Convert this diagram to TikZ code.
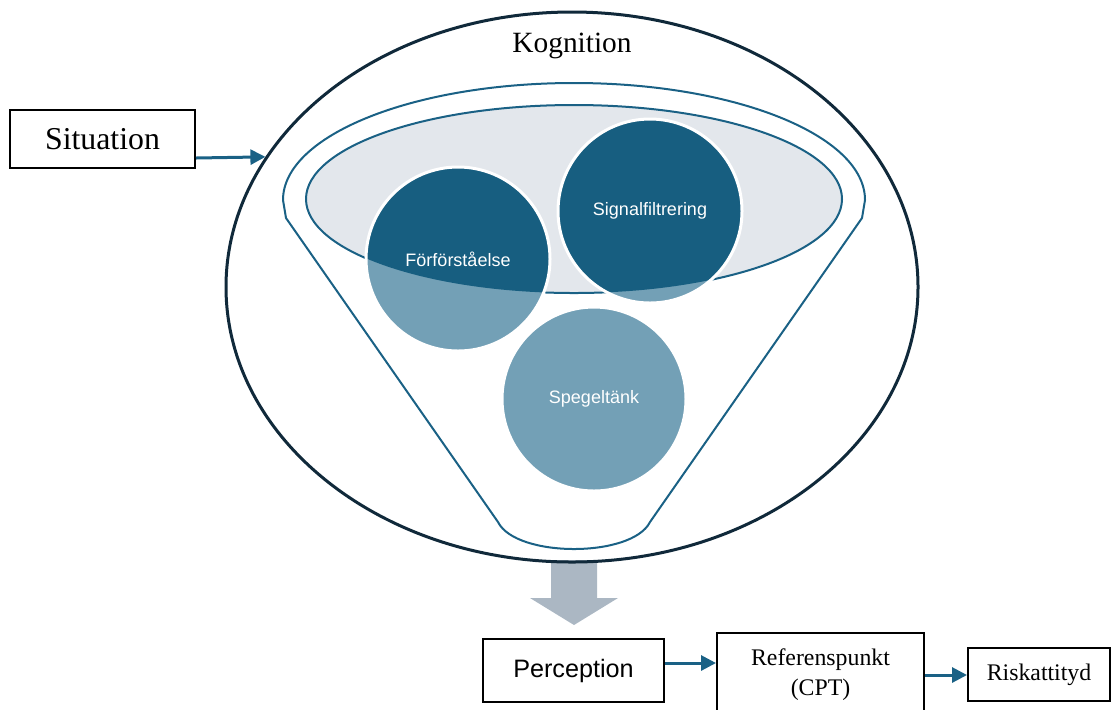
\documentclass[tikz,border=0pt]{standalone}
\usepackage{fontspec}
\setmainfont{Liberation Serif}
\newfontfamily\sansf{Liberation Sans}
\usepackage{tikz}
\usetikzlibrary{shapes.geometric}
\usetikzlibrary{arrows.meta}
\definecolor{navy}{HTML}{10293A}
\definecolor{tealc}{HTML}{1A6185}
\definecolor{darkc}{HTML}{175E80}
\definecolor{litec}{HTML}{73A0B6}
\definecolor{greyf}{HTML}{E3E7EC}
\definecolor{greya}{HTML}{ABB7C3}
\tikzstyle{bx}=[draw,rectangle,fill=white,line width=1pt,inner sep=0pt]
\tikzstyle{bub}=[draw=white,circle,line width=1.5pt,minimum size=92pt,inner sep=0pt,text=white,font=\sansf\fontsize{9}{11}\selectfont]
\tikzstyle{flow}=[draw=tealc,line width=1.5pt,-{Triangle[length=7.5pt,width=7.5pt]}]

\begin{document}
\begin{tikzpicture}[x=0.5pt,y=-0.5pt]
      \useasboundingbox (0,0) rectangle (1112,709);
      % grey block arrow below the big ellipse
      \fill [greya] (551,560) -- (597,560) -- (597,598) -- (618,598) -- (574,625) -- (530,598) -- (551,598) -- cycle;
      \node [draw=navy, ellipse, line width=1.5pt, minimum width=346pt, minimum height=275pt] (kog) at (572,287) {};
      \node [font=\fontsize{14.7}{17}\selectfont] (kogtxt) at (572,46) {Kognition};
      % funnel
      \draw [tealc, line width=1pt] (283,200) arc [start angle=180, end angle=360, x radius=291, y radius=117]
        -- (862,218) -- (650,522) .. controls (632,558) and (516,558) .. (498,522) -- (286,218) -- cycle;
      \coordinate (ic) at (574,199);
      \draw [tealc, fill=greyf, line width=1pt] (ic) ellipse [x radius=268, y radius=94];
      \coordinate (c1) at (458,259);
      \coordinate (c2) at (650,211);
      \coordinate (c3) at (594,399);
      \fill [litec] (c1) circle [radius=92] (c2) circle [radius=92] (c3) circle [radius=92];
      \begin{scope}
        \clip (ic) ellipse [x radius=268, y radius=94];
        \fill [darkc] (c1) circle [radius=92] (c2) circle [radius=92];
      \end{scope}
      \node [bub] (ff) at (c1) {Förförståelse};
      \node [bub] (sf) at (c2) {Signalfiltrering};
      \node [bub] (sp) at (c3) {Spegeltänk};
      % boxes
      \node [bx, font=\fontsize{15.9}{18}\selectfont, minimum width=92.5pt, minimum height=29pt] (sit) at (102.5,139) {Situation};
      \node [bx, font=\sansf\fontsize{12.6}{15}\selectfont, minimum width=90.5pt, minimum height=31.5pt] (perc) at (573.5,670.5) {Perception};
      \node [bx, align=center, font=\fontsize{11.9}{15}\selectfont, minimum width=103.5pt, minimum height=42pt] (ref) at (820.5,675) {Referenspunkt\\(CPT)};
      \node [bx, font=\fontsize{11.9}{14}\selectfont, minimum width=71pt, minimum height=26.5pt] (risk) at (1039,674.5) {Riskattityd};
      \path [flow] ([yshift=-9.5pt]sit.east) -- (kog.157.1);
      \path [flow] ([yshift=3.75pt]perc.east) -- ([yshift=3.75pt]perc.east -| ref.west);
      \path [flow] (ref.east) -- (ref.east -| risk.west);
\end{tikzpicture}
\end{document}
